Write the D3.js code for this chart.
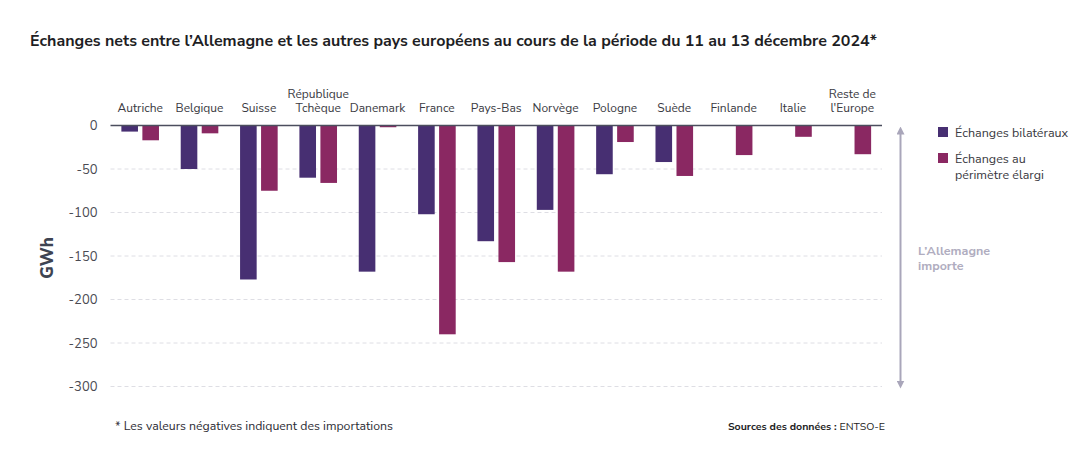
<!DOCTYPE html>
<html>
<head>
<meta charset="utf-8">
<script src="https://cdn.jsdelivr.net/npm/d3@7"></script>
<style>
  body { margin: 0; background: #fff; }
  svg { font-family: "Nunito Sans", Lato, "Open Sans", sans-serif; }
</style>
</head>
<body>
<div id="chart"></div>
<script>
// Net exchanges Germany <-> other European countries, 11-13 Dec 2024 (GWh)
const countries = ['Autriche', 'Belgique', 'Suisse', 'République\nTchèque', 'Danemark', 'France',
    'Pays-Bas', 'Norvège', 'Pologne', 'Suède', 'Finlande', 'Italie', 'Reste de\nl\'Europe'];
const bilateral = [-7, -50, -177, -60, -168, -102, -133, -97, -56, -42, null, null, null];
const widened = [-17, -9, -75, -66, -2, -240, -157, -168, -19, -58, -34, -13, -33];
const seriesNames = ['Échanges bilatéraux', 'Échanges au\npérimètre élargi'];
const yTicks = [0, -50, -100, -150, -200, -250, -300];

const colors = ['#472f72', '#8a2862'];
const width = 1090, height = 467;
const margin = { top: 125.5, right: 208, bottom: 80.5, left: 110.5 };

const svg = d3.select('#chart').append('svg')
    .attr('width', width)
    .attr('height', height);

// Title
svg.append('text')
    .attr('x', 30)
    .attr('y', 46)
    .attr('font-size', 16)
    .attr('font-weight', 700)
    .attr('fill', '#1e1e24')
    .text('Échanges nets entre l\u2019Allemagne et les autres pays européens au cours de la période du 11 au 13 décembre 2024*');

const x = d3.scaleBand()
    .domain(countries)
    .range([margin.left, width - margin.right])
    .padding(0);

const y = d3.scaleLinear()
    .domain([0, -300])
    .range([margin.top, height - margin.bottom]);

// Grid
svg.append('g')
    .selectAll('line')
    .data(yTicks.filter(d => d !== 0))
    .join('line')
    .attr('x1', margin.left)
    .attr('x2', width - margin.right)
    .attr('y1', d => y(d))
    .attr('y2', d => y(d))
    .attr('stroke', '#dedee4')
    .attr('stroke-dasharray', '4,3');

// Y axis labels (plain hyphen, like the source)
const yAxis = svg.append('g')
    .attr('transform', `translate(${margin.left},0)`)
    .call(d3.axisLeft(y).tickValues(yTicks).tickSize(0).tickPadding(13).tickFormat(d => String(d)));
yAxis.select('.domain').remove();
yAxis.selectAll('text')
    .attr('font-family', '"Nunito Sans", Lato, "Open Sans", sans-serif')
    .attr('font-size', 13)
    .attr('fill', '#4a4a52');

svg.append('text')
    .attr('transform', `translate(53,258) rotate(-90)`)
    .attr('text-anchor', 'middle')
    .attr('font-size', 17)
    .attr('font-weight', 800)
    .attr('fill', '#3e4452')
    .text('GWh');

// Bars
const barW = 16.6, gap = 2.2;
const series = [bilateral, widened];
series.forEach((vals, si) => {
    svg.append('g')
        .selectAll('rect')
        .data(countries.map((c, i) => ({ c, v: vals[i] })).filter(d => d.v !== null))
        .join('rect')
        .attr('x', d => x(d.c) + x.bandwidth() / 2 + (si === 0 ? -gap - barW : gap))
        .attr('y', y(0))
        .attr('width', barW)
        .attr('height', d => y(d.v) - y(0))
        .attr('fill', colors[si]);
});

// Zero line
svg.append('line')
    .attr('x1', margin.left)
    .attr('x2', width - margin.right)
    .attr('y1', y(0))
    .attr('y2', y(0))
    .attr('stroke', '#4b4e5e')
    .attr('stroke-width', 1.5);

// Category labels (above zero line), one text per line
const catG = svg.append('g');
countries.forEach(c => {
    const lines = c.split('\n');
    lines.forEach((l, i) => {
        catG.append('text')
            .attr('x', x(c) + x.bandwidth() / 2)
            .attr('y', 112 - (lines.length - 1 - i) * 14.5)
            .attr('text-anchor', 'middle')
            .attr('font-size', 12)
            .attr('fill', '#3a3a42')
            .text(l);
    });
});

// Arrow "L'Allemagne importe"
const defs = svg.append('defs');
defs.append('marker')
    .attr('id', 'ah')
    .attr('viewBox', '0 0 10 10')
    .attr('refX', 5).attr('refY', 5)
    .attr('markerWidth', 4).attr('markerHeight', 4)
    .attr('orient', 'auto-start-reverse')
    .append('path')
    .attr('d', 'M0,0 L10,5 L0,10 z')
    .attr('fill', '#a9a6ba');

svg.append('line')
    .attr('x1', 900.5).attr('x2', 900.5)
    .attr('y1', y(0) + 5).attr('y2', y(-300) - 2)
    .attr('stroke', '#a9a6ba')
    .attr('stroke-width', 2)
    .attr('marker-start', 'url(#ah)')
    .attr('marker-end', 'url(#ah)');

['L\u2019Allemagne', 'importe'].forEach((l, i) => {
    svg.append('text')
        .attr('x', 918)
        .attr('y', 255 + i * 15)
        .attr('font-size', 12.5)
        .attr('font-weight', 700)
        .attr('fill', '#b0adc0')
        .text(l);
});

// Legend
const leg = svg.append('g').attr('transform', 'translate(938,127)');
seriesNames.forEach((name, i) => {
    const g = leg.append('g').attr('transform', `translate(0,${i * 26})`);
    g.append('rect').attr('width', 10).attr('height', 10).attr('fill', colors[i]);
    name.split('\n').forEach((l, j) => {
        g.append('text')
            .attr('x', 17)
            .attr('y', 10 + j * 16)
            .attr('font-size', 12.5)
            .attr('fill', '#3a3a42')
            .text(l);
    });
});

// Footer
svg.append('text')
    .attr('x', 115)
    .attr('y', 430)
    .attr('font-size', 12.3)
    .attr('fill', '#2e2e36')
    .text('* Les valeurs négatives indiquent des importations');

const src = svg.append('text')
    .attr('x', 885)
    .attr('y', 430)
    .attr('text-anchor', 'end')
    .attr('font-size', 10.6)
    .attr('fill', '#1e1e24');
src.append('tspan').attr('font-weight', 700).text('Sources des données : ');
src.append('tspan').text('ENTSO-E');
</script>
</body>
</html>
